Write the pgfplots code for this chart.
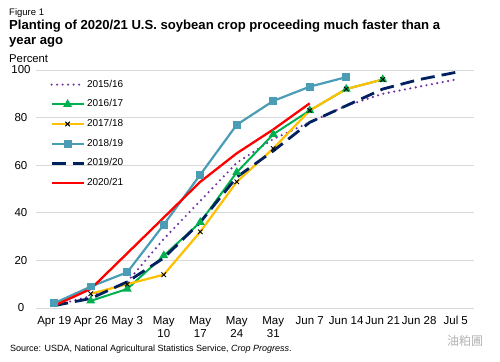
\documentclass[border=0pt]{standalone}
\usepackage{fontspec}
\setmainfont{Liberation Sans}
\newfontfamily\cjk{Noto Sans CJK SC}
\usepackage{pgfplots}
\pgfplotsset{compat=1.18}
\definecolor{cpurple}{HTML}{7030A0}
\definecolor{cgreen}{HTML}{00B050}
\definecolor{cyellow}{HTML}{FFC000}
\definecolor{cteal}{HTML}{4A9DB5}
\definecolor{cnavy}{HTML}{002060}
\definecolor{cred}{HTML}{FF0000}
\definecolor{cgrid}{HTML}{D9D9D9}
\begin{document}
\begin{tikzpicture}[x=1pt,y=1pt]
\useasboundingbox (0,0) rectangle (500,361);
\node[anchor=base west, inner sep=0pt, font=\fontsize{9.5}{11}\selectfont] at (9,345.3) {Figure 1};
\node[anchor=base west, inner sep=0pt, font=\fontsize{13.1}{15}\selectfont\bfseries] at (9,331) {Planting of 2020/21 U.S. soybean crop proceeding much faster than a};
\node[anchor=base west, inner sep=0pt, font=\fontsize{13.1}{15}\selectfont\bfseries] at (9,316.5) {year ago};
\node[anchor=base west, inner sep=0pt, font=\fontsize{11.3}{13}\selectfont] at (9,298.3) {Percent};
\node[anchor=base west, inner sep=0pt, font=\fontsize{9}{11}\selectfont] at (10,9.8) {Source: USDA, National Agricultural Statistics Service, \textit{Crop Progress}.};
\node[anchor=base west, inner sep=0pt, text=black!30, font=\cjk\fontsize{12}{14}\selectfont] at (447,16) {油粕圃};
\begin{axis}[
  at={(36pt,53pt)}, anchor=south west,
  scale only axis, width=438pt, height=238pt,
  xmin=-0.5, xmax=11.5, ymin=0, ymax=100,
  ytick={0,20,...,100},
  xtick={0,...,11},
  xticklabels={Apr 19,Apr 26,May 3,May\\10,May\\17,May\\24,May\\31,Jun 7,Jun 14,Jun 21,Jun 28,Jul 5},
  xticklabel style={align=center, font=\fontsize{11.5}{13}\selectfont, yshift=-5pt},
  yticklabel style={anchor=center, xshift=-15pt, font=\fontsize{11.5}{13}\selectfont},
  /pgf/number format/assume math mode=true,
  ymajorgrids, grid style={cgrid, line width=0.8pt},
  axis line style={draw=none},
  tick style={draw=none},
  clip=false,
  legend cell align=left,
  legend style={at={(0.032,0.9605)}, anchor=north west, draw=none, fill=none, inner sep=0pt,
    font=\fontsize{10}{12}\selectfont, row sep=9.7pt, column sep=2pt,
    nodes={inner sep=0pt, text height=7.5pt, text depth=2.5pt}},
  legend image code/.code={\draw[mark repeat=2, mark phase=2, #1] plot coordinates {(0pt,0pt) (16pt,0pt) (32pt,0pt)};},
]
\addplot[cpurple, line width=2.4pt, line cap=round, dash pattern=on 0pt off 5.5pt, mark=none]
  coordinates {(0,1)(1,5)(2,11)(3,29)(4,45)(5,61)(6,71)(7,78)(8,85)(9,90)(10,93)(11,96)};
\addlegendentry{2015/16}
\addplot[cgreen, line width=2pt, mark=triangle*, mark size=3.2pt, mark options={solid}]
  coordinates {(1,3)(2,8)(3,22)(4,36)(5,57)(6,73)(7,83)(8,92)(9,96)};
\addlegendentry{2016/17}
\addplot[cyellow, line width=2.2pt, mark=x, mark size=3.2pt, mark options={black, line width=0.9pt}]
  coordinates {(1,6)(2,10)(3,14)(4,32)(5,53)(6,67)(7,83)(8,92)(9,96)};
\addlegendentry{2017/18}
\addplot[cteal, line width=2.2pt, mark=square*, mark size=2.8pt]
  coordinates {(0,2)(1,9)(2,15)(3,35)(4,56)(5,77)(6,87)(7,93)(8,97)};
\addlegendentry{2018/19}
\addplot[cnavy, line width=2.8pt, dash pattern=on 14pt off 7pt, mark=none]
  coordinates {(0,1)(1,4)(2,11)(3,21)(4,36)(5,55)(6,66)(7,78)(8,85)(9,92)(10,96)(11,99)};
\addlegendentry{2019/20}
\addplot[cred, line width=2.3pt, mark=none]
  coordinates {(0,1)(1,8)(2,23)(3,38)(4,53)(5,65)(6,75)(7,86)};
\addlegendentry{2020/21}
\end{axis}
\end{tikzpicture}
\end{document}
